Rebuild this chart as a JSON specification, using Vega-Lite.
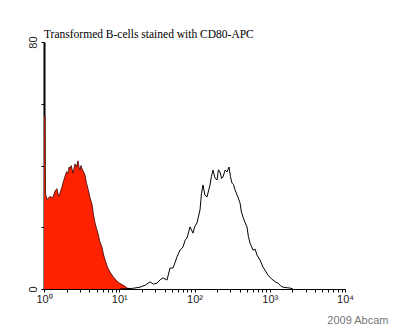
{
  "$schema": "https://vega.github.io/schema/vega-lite/v6.json",
  "autosize": "none",
  "width": 301,
  "height": 247,
  "padding": {"left": 44, "top": 42, "right": 55, "bottom": 44},
  "background": "white",
  "config": {"view": {"stroke": null}},
  "title": {
    "text": "Transformed B-cells stained with CD80-APC",
    "anchor": "start",
    "frame": "group",
    "font": "Liberation Serif",
    "fontSize": 11.5,
    "fontWeight": "normal",
    "color": "#000",
    "offset": -5
  },
  "datasets": {
    "control": [
      {"x": 1.0, "count": 56}, {"x": 1.031, "count": 56}, {"x": 1.04, "count": 31}, {"x": 1.1, "count": 29},
      {"x": 1.2, "count": 30}, {"x": 1.3, "count": 29.5}, {"x": 1.42, "count": 32}, {"x": 1.49, "count": 32.5},
      {"x": 1.56, "count": 30}, {"x": 1.63, "count": 31}, {"x": 1.73, "count": 33}, {"x": 1.82, "count": 35},
      {"x": 1.9, "count": 36.5}, {"x": 2.0, "count": 38}, {"x": 2.08, "count": 37.5}, {"x": 2.15, "count": 39.5},
      {"x": 2.22, "count": 39}, {"x": 2.3, "count": 40}, {"x": 2.43, "count": 37.5}, {"x": 2.5, "count": 39},
      {"x": 2.58, "count": 40.5}, {"x": 2.7, "count": 39.5}, {"x": 2.83, "count": 41.5}, {"x": 2.92, "count": 39.5},
      {"x": 3.01, "count": 38.5}, {"x": 3.1, "count": 40}, {"x": 3.2, "count": 39}, {"x": 3.35, "count": 38},
      {"x": 3.5, "count": 37}, {"x": 3.65, "count": 34.5}, {"x": 3.84, "count": 32.5}, {"x": 4.1, "count": 29.5},
      {"x": 4.34, "count": 27.5}, {"x": 4.55, "count": 24}, {"x": 4.76, "count": 21.5}, {"x": 5.0, "count": 19.5},
      {"x": 5.22, "count": 18}, {"x": 5.5, "count": 15.5}, {"x": 5.9, "count": 13.5}, {"x": 6.2, "count": 11},
      {"x": 6.47, "count": 9.5}, {"x": 7.0, "count": 7}, {"x": 7.54, "count": 5.5}, {"x": 8.3, "count": 4},
      {"x": 9.34, "count": 2.5}, {"x": 10.2, "count": 1.8}, {"x": 11.2, "count": 1.3}, {"x": 12.0, "count": 0.8},
      {"x": 12.7, "count": 0.3}, {"x": 14.3, "count": 0}
    ],
    "stained": [
      {"x": 10.2, "count": 0}, {"x": 15.0, "count": 0.2}, {"x": 18.9, "count": 0.6}, {"x": 22.0, "count": 1.2},
      {"x": 25.6, "count": 2.3}, {"x": 28.5, "count": 1.6}, {"x": 31.8, "count": 1.9}, {"x": 35.0, "count": 3.0},
      {"x": 38.1, "count": 3.6}, {"x": 43.1, "count": 2.9}, {"x": 47.3, "count": 6.8}, {"x": 51.8, "count": 6.8},
      {"x": 55.0, "count": 8.5}, {"x": 58.5, "count": 10.4}, {"x": 64.2, "count": 12.6}, {"x": 70.4, "count": 13.6},
      {"x": 75.0, "count": 15.8}, {"x": 79.5, "count": 16.5}, {"x": 87.2, "count": 20.1}, {"x": 95.5, "count": 18.1},
      {"x": 101.0, "count": 20.3}, {"x": 107.9, "count": 21.4}, {"x": 118.3, "count": 25.6}, {"x": 124.0, "count": 31.0},
      {"x": 129.7, "count": 33.7}, {"x": 137.0, "count": 30.5}, {"x": 146.6, "count": 29.8}, {"x": 160.7, "count": 33.7},
      {"x": 168.0, "count": 36.5}, {"x": 176.2, "count": 38.5}, {"x": 187.0, "count": 36.0}, {"x": 199.1, "count": 35.3},
      {"x": 208.0, "count": 38.6}, {"x": 218.3, "count": 37.9}, {"x": 229.0, "count": 35.8}, {"x": 239.2, "count": 36.3},
      {"x": 255.0, "count": 38.5}, {"x": 270.4, "count": 37.9}, {"x": 287.4, "count": 39.5}, {"x": 300.0, "count": 36.5},
      {"x": 315.0, "count": 34.3}, {"x": 330.0, "count": 33.8}, {"x": 345.3, "count": 32.1}, {"x": 372.0, "count": 30.2},
      {"x": 402.4, "count": 27.9}, {"x": 420.0, "count": 25.0}, {"x": 441.1, "count": 23.3}, {"x": 470.0, "count": 21.5},
      {"x": 498.6, "count": 20.1}, {"x": 520.0, "count": 17.0}, {"x": 546.4, "count": 14.9}, {"x": 599.0, "count": 12.6},
      {"x": 640.0, "count": 12.9}, {"x": 677.2, "count": 11.0}, {"x": 742.1, "count": 9.4}, {"x": 813.5, "count": 7.1},
      {"x": 880.0, "count": 5.8}, {"x": 947.9, "count": 4.5}, {"x": 1020.0, "count": 3.6}, {"x": 1104.5, "count": 2.9},
      {"x": 1190.0, "count": 2.3}, {"x": 1287.3, "count": 1.9}, {"x": 1400.0, "count": 1.0}, {"x": 1500.3, "count": 0.6},
      {"x": 1700.0, "count": 0.4}, {"x": 1858.0, "count": 0.3}, {"x": 2037.0, "count": 0}
    ]
  },
  "encoding": {
    "x": {
      "field": "x",
      "type": "quantitative",
      "scale": {"type": "log", "domain": [1, 10000], "nice": false},
      "axis": {
        "title": "2009 Abcam",
        "titleFont": "Liberation Sans",
        "titleFontSize": 11,
        "titleFontWeight": "normal",
        "titleColor": "#777",
        "titleAnchor": "end",
        "titleAlign": "right",
        "titleBaseline": "top",
        "titleX": 344,
        "titleY": 25,
        "values": [1,2,3,4,5,6,7,8,9,10,20,30,40,50,60,70,80,90,100,200,300,400,500,600,700,800,900,1000,2000,3000,4000,5000,6000,7000,8000,9000,10000],
        "labelExpr": "datum.value == 1 ? '10⁰' : datum.value == 10 ? '10¹' : datum.value == 100 ? '10²' : datum.value == 1000 ? '10³' : datum.value == 10000 ? '10⁴' : ''",
        "labelFont": "Liberation Sans",
        "labelFontSize": 11,
        "labelColor": "#222",
        "labelOverlap": false,
        "labelFlush": false,
        "labelPadding": 1,
        "tickSize": 3,
        "tickColor": "#000",
        "domainColor": "#000",
        "domainWidth": 1.2,
        "grid": false
      }
    },
    "y": {
      "field": "count",
      "type": "quantitative",
      "scale": {"domain": [0, 80], "nice": false},
      "axis": {
        "title": null,
        "values": [0, 20, 40, 60, 80],
        "labelExpr": "datum.value == 0 || datum.value == 80 ? datum.label : ''",
        "labelAngle": -90,
        "labelAlign": "center",
        "labelBaseline": "bottom",
        "labelFont": "Liberation Sans",
        "labelFontSize": 11,
        "labelColor": "#222",
        "labelPadding": 3,
        "tickSize": 3,
        "tickColor": "#000",
        "domainColor": "#000",
        "domainWidth": 2,
        "grid": false
      }
    }
  },
  "layer": [
    {
      "data": {"name": "control"},
      "mark": {"type": "area", "color": "#ff2200", "opacity": 1, "line": {"color": "#300", "strokeWidth": 0.8}, "interpolate": "linear"}
    },
    {
      "data": {"name": "stained"},
      "mark": {"type": "line", "color": "#000", "strokeWidth": 1}
    }
  ]
}
